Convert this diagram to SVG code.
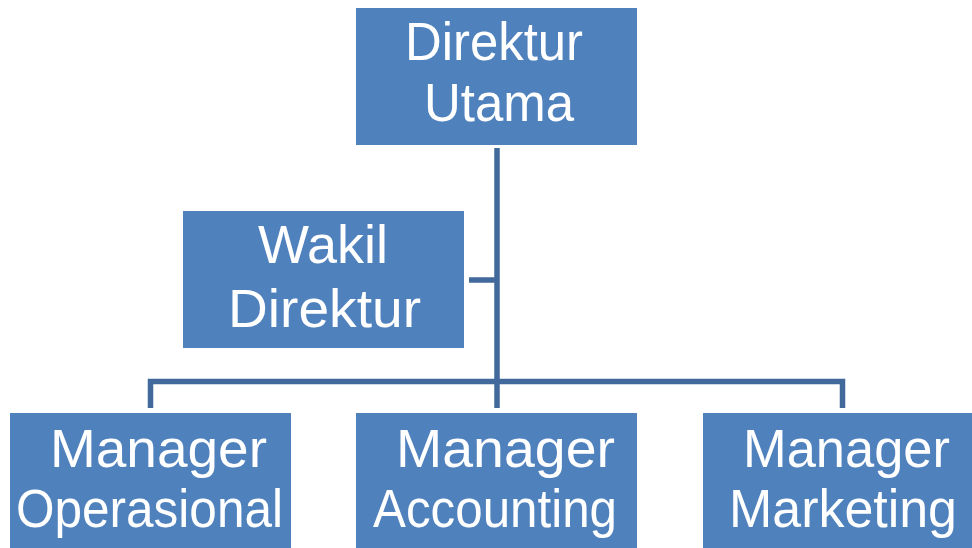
<svg xmlns="http://www.w3.org/2000/svg" width="972" height="548" viewBox="0 0 972 548">
<style>
.box{fill:#4f81bd}
.t{font-family:"Liberation Sans",Arial,sans-serif;font-size:54px;fill:#ffffff}
.c{fill:none;stroke:#41699b;stroke-width:5.5;stroke-linejoin:miter;stroke-linecap:butt}
</style>
<rect width="972" height="548" fill="#ffffff"/>
<g id="connectors">
<path class="c" d="M497 148 V408"/>
<path class="c" d="M469 280 H497"/>
<path class="c" d="M150.5 408 V381.5 H842.5 V408"/>
</g>
<g id="direktur-utama">
<rect class="box" x="356" y="8" width="281" height="137"/>
<text class="t" x="405" y="60" textLength="178" lengthAdjust="spacingAndGlyphs">Direktur</text>
<text class="t" x="424" y="121" textLength="150" lengthAdjust="spacingAndGlyphs">Utama</text>
</g>
<g id="wakil-direktur">
<rect class="box" x="183" y="211" width="281" height="137"/>
<text class="t" x="258" y="263" textLength="130" lengthAdjust="spacingAndGlyphs">Wakil</text>
<text class="t" x="228" y="327" textLength="193" lengthAdjust="spacingAndGlyphs">Direktur</text>
</g>
<g id="manager-operasional">
<rect class="box" x="10" y="413" width="281" height="135"/>
<text class="t" x="50" y="467" textLength="217" lengthAdjust="spacingAndGlyphs">Manager</text>
<text class="t" x="16" y="527" textLength="267" lengthAdjust="spacingAndGlyphs">Operasional</text>
</g>
<g id="manager-accounting">
<rect class="box" x="356" y="413" width="281" height="135"/>
<text class="t" x="396" y="467" textLength="219" lengthAdjust="spacingAndGlyphs">Manager</text>
<text class="t" x="373" y="527" textLength="244" lengthAdjust="spacingAndGlyphs">Accounting</text>
</g>
<g id="manager-marketing">
<rect class="box" x="703" y="413" width="269" height="135"/>
<text class="t" x="743" y="467" textLength="207" lengthAdjust="spacingAndGlyphs">Manager</text>
<text class="t" x="729" y="527" textLength="228" lengthAdjust="spacingAndGlyphs">Marketing</text>
</g>
</svg>
